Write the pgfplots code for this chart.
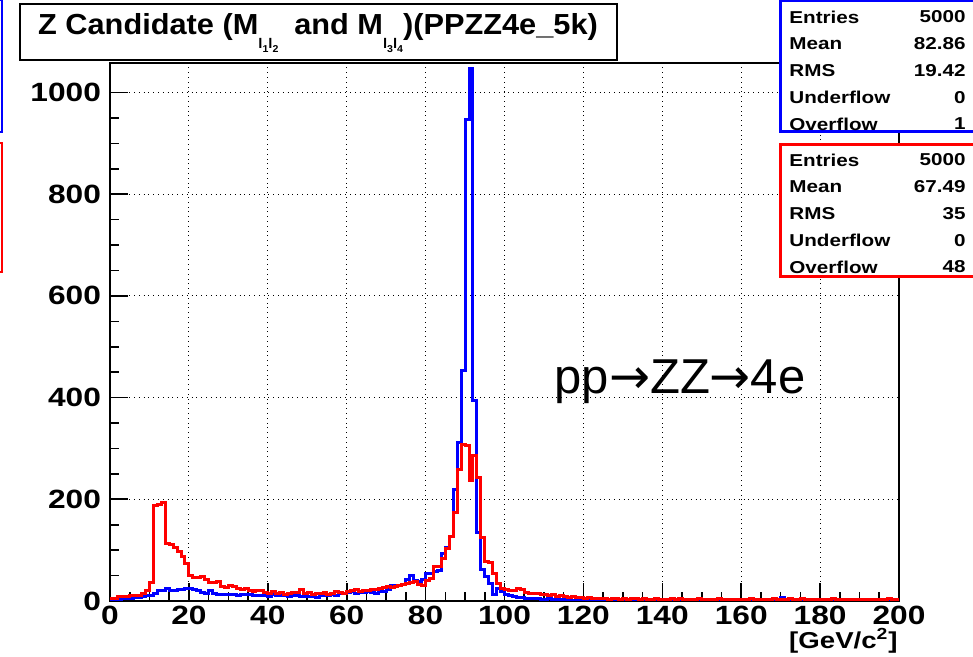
\documentclass[border=0pt]{standalone}
\usepackage{pgfplots}
\pgfplotsset{compat=1.18}
\usepackage{pgfplotstable}
\usepackage{fontspec}
\setmainfont{Liberation Sans}[FakeStretch=1.2]
\newfontfamily\plainsans{Liberation Sans}
\newfontfamily\titlefont{Liberation Sans}[FakeStretch=1.06]
\newfontfamily\arrowfont{DejaVu Sans}

% Z candidate mass histograms, 1 GeV bins (left edge, blue = M_l1l2, red = M_l3l4)
\pgfplotstableread{
x blue red
0 2 5
1 3 5
2 3 8
3 4 8
4 5 8
5 5 11
6 6 11
7 7 11
8 9 14
9 10 20
10 11 36
11 14 188
12 20 189
13 20 193
14 25 114
15 20 112
16 21 106
17 22 97
18 23 87
19 25 73
20 24 51
21 22 47
22 20 47
23 17 49
24 14 42
25 20 37
26 14 37
27 13 38
28 13 28
29 12 27
30 13 30
31 12 28
32 10 24
33 12 22
34 12 24
35 12 20
36 11 18
37 11 21
38 10 20
39 11 16
40 9 15
41 12 18
42 11 14
43 10 16
44 11 13
45 9 15
46 10 17
47 11 16
48 9 22
49 8 14
50 8 16
51 9 13
52 7 15
53 10 14
54 11 16
55 10 13
56 12 15
57 11 18
58 14 16
59 15 15
60 16 18
61 18 20
62 15 22
63 16 19
64 17 20
65 18 21
66 16 23
67 15 22
68 18 24
69 19 26
70 22 28
71 31 27
72 28 28
73 30 30
74 33 33
75 42 35
76 51 36
77 40 38
78 38 33
79 42 31
80 54 41
81 55 45
82 58 67
83 60 67
84 94 84
85 105 104
86 127 127
87 219 174
88 311 258
89 453 307
90 947 305
91 1047 236
92 394 286
93 134 242
94 61 125
95 48 77
96 35 75
97 12 55
98 25 35
99 18 25
100 12 22
101 10 21
102 8 20
103 7 24
104 6 23
105 5 17
106 5 15
107 4 14
108 4 14
109 3 12
110 3 13
111 4 10
112 2 12
113 3 9
114 2 10
115 3 8
116 2 7
117 1 8
118 2 6
119 2 7
120 1 5
121 2 6
122 1 4
123 1 5
124 2 4
125 1 5
126 0 3
127 1 4
128 1 5
129 0 3
130 1 4
131 1 3
132 0 5
133 1 4
134 0 3
135 1 5
136 0 2
137 0 3
138 1 4
139 0 3
140 0 3
141 1 2
142 0 4
143 0 3
144 1 5
145 0 2
146 0 3
147 0 3
148 1 2
149 0 4
150 0 3
151 0 2
152 1 3
153 0 2
154 0 4
155 0 3
156 0 2
157 1 3
158 0 2
159 0 3
160 0 2
161 0 3
162 0 4
163 1 2
164 0 3
165 0 2
166 0 3
167 0 2
168 0 4
169 1 2
170 6 3
171 0 2
172 0 5
173 0 2
174 0 3
175 1 4
176 0 2
177 0 3
178 0 2
179 0 3
180 0 2
181 0 3
182 1 2
183 0 4
184 0 2
185 0 3
186 0 2
187 0 3
188 0 2
189 0 3
190 0 2
191 0 2
192 0 3
193 0 2
194 0 3
195 0 2
196 0 2
197 0 4
198 0 2
199 0 2
200 0 2
}\histdata

\begin{document}
\begin{tikzpicture}
\useasboundingbox (0,0) rectangle (486.5pt,328.5pt);
\begin{axis}[
    at={(55pt,28pt)}, anchor=south west,
    scale only axis,
    width=394.5pt, height=269pt,
    xmin=0, xmax=200,
    ymin=0, ymax=1058,
    xtick={0,20,...,200},
    ytick={0,200,...,1000},
    minor x tick num=3,
    minor y tick num=3,
    tick pos=left,
    tick align=inside,
    major tick length=9pt,
    minor tick length=4.5pt,
    tick style={black, line width=0.8pt},
    grid=major,
    grid style={black, dotted, line width=0.5pt},
    axis line style={line width=0.8pt},
    tick label style={font=\fontsize{13.2}{13}\selectfont\bfseries},
    yticklabel style={xshift=-1pt},
    xticklabel style={yshift=1pt},
    /pgf/number format/assume math mode=true,
    /pgf/number format/1000 sep={},
]
    % M_l1l2
    \addplot[blue, line width=1.5pt, const plot mark left] table[x=x, y=blue] {\histdata};
    % M_l3l4
    \addplot[red, line width=1.5pt, const plot mark left] table[x=x, y=red] {\histdata};
\end{axis}

\begin{scope}[x=0.5pt, y=-0.5pt, shift={(0,328.5pt)}]
    % cut-off stat boxes at the left edge
    \draw[blue, line width=1pt] (-5,0) -- (2,0) -- (2,132) -- (-5,132);
    \draw[red, line width=1pt] (-5,143) -- (2,143) -- (2,272) -- (-5,272);

    % title box
    \draw[black, line width=1pt, fill=white] (20,4) rectangle (617,60);
    \node at (318,33) {\titlefont\fontsize{14.5}{14}\selectfont\bfseries
        Z Candidate (M\raisebox{-0.9ex}{\fontsize{7}{7}\selectfont l\raisebox{-0.5ex}{\fontsize{5}{5}\selectfont 1}l\raisebox{-0.5ex}{\fontsize{5}{5}\selectfont 2}}\hspace{0.25em} and M\raisebox{-0.9ex}{\fontsize{7}{7}\selectfont l\raisebox{-0.5ex}{\fontsize{5}{5}\selectfont 3}l\raisebox{-0.5ex}{\fontsize{5}{5}\selectfont 4}})(PPZZ4e\_5k)};

    % stat boxes
    \draw[blue, line width=1.5pt, fill=white] (780,1) rectangle (980,132);
    \draw[red, line width=1.5pt, fill=white] (780,145) rectangle (980,277);
    \foreach \lab/\val [count=\i] in {Entries/5000, Mean/82.86, RMS/19.42, Underflow/0, Overflow/1} {
        \node[anchor=west, inner sep=0pt] at (789, {17+26.75*(\i-1)}) {\fontsize{8.6}{9}\selectfont\bfseries \lab};
        \node[anchor=east, inner sep=0pt] at (966, {17+26.75*(\i-1)}) {\fontsize{8.6}{9}\selectfont\bfseries \val};
    }
    \foreach \lab/\val [count=\i] in {Entries/5000, Mean/67.49, RMS/35, Underflow/0, Overflow/48} {
        \node[anchor=west, inner sep=0pt] at (789, {160+26.75*(\i-1)}) {\fontsize{8.6}{9}\selectfont\bfseries \lab};
        \node[anchor=east, inner sep=0pt] at (966, {160+26.75*(\i-1)}) {\fontsize{8.6}{9}\selectfont\bfseries \val};
    }

    % process label
    \node at (680,382) {\plainsans\fontsize{24.5}{24}\selectfont pp{\arrowfont →}ZZ{\arrowfont →}4e};

    % axis unit
    \node[anchor=east, inner sep=0pt] at (898,641) {\fontsize{11.5}{11}\selectfont\bfseries [GeV/c\textsuperscript{2}]};
\end{scope}
\end{tikzpicture}
\end{document}
